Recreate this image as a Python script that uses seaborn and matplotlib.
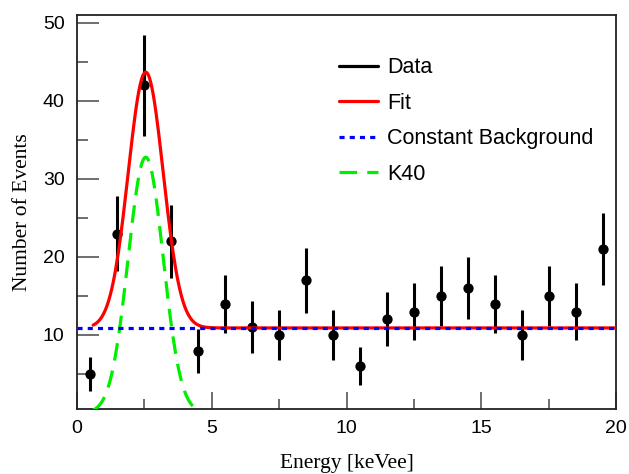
import numpy as np
import pandas as pd
import matplotlib
matplotlib.use("Agg")
import matplotlib.pyplot as plt
import seaborn as sns

# Data (binned counts, 1 keVee bins)
bin_centers = [0.5, 1.5, 2.5, 3.5, 4.5, 5.5, 6.5, 7.5, 8.5, 9.5,
               10.5, 11.5, 12.5, 13.5, 14.5, 15.5, 16.5, 17.5, 18.5, 19.5]
counts = [5, 23, 42, 22, 8, 14, 11, 10, 17, 10,
          6, 12, 13, 15, 16, 14, 10, 15, 13, 21]

# Fit parameters (Gaussian K40 peak + constant background)
k40_amp = 32.8
k40_mean = 2.55
k40_sigma = 0.65
bkg_level = 10.9
fit_range = [0.6, 20.0]

sns.set_style("ticks")
plt.rcParams["font.family"] = ["Liberation Sans", "DejaVu Sans"]
plt.rcParams["text.color"] = "black"
plt.rcParams["axes.labelcolor"] = "black"
plt.rcParams["xtick.labelcolor"] = "black"
plt.rcParams["ytick.labelcolor"] = "black"

df = pd.DataFrame({"energy": bin_centers, "events": counts})
df["err"] = np.sqrt(df["events"])

x = np.linspace(fit_range[0], fit_range[1], 400)
k40 = k40_amp * np.exp(-0.5 * ((x - k40_mean) / k40_sigma) ** 2)
curves = pd.DataFrame({"energy": x, "k40": k40, "fit": k40 + bkg_level})

fig = plt.figure(figsize=(6.29, 4.74), dpi=100)
ax = fig.add_axes([0.1224, 0.137, 0.857, 0.831])

ax.errorbar(df["energy"], df["events"], yerr=df["err"], fmt="none",
            ecolor="black", elinewidth=2.2, capsize=0, zorder=3)
sns.scatterplot(data=df, x="energy", y="events", color="black", s=55,
                edgecolor="black", linewidth=0, ax=ax, zorder=4)

sns.lineplot(data=curves, x="energy", y="fit", color="red", lw=2.3,
             ax=ax, zorder=5)
ax.plot([0, 20], [bkg_level, bkg_level], color="blue", lw=2.3,
        dashes=(1.6, 1.6), zorder=6)
sns.lineplot(data=curves, x="energy", y="k40", color="#00ee00", lw=2.3,
             ax=ax, zorder=5, dashes=False)
ax.lines[-1].set_dashes((5.5, 3.2))

ax.set_xlim(0, 20)
ax.set_ylim(0.5, 51)
ax.set_xticks([0, 5, 10, 15, 20])
ax.set_xticks([2.5, 7.5, 12.5, 17.5], minor=True)
ax.set_yticks([10, 20, 30, 40, 50])
ax.set_yticks([5, 15, 25, 35, 45], minor=True)
ax.tick_params(axis="both", which="both", direction="in", labelsize=14,
               color="#555555", width=1.2, labelcolor="black")
ax.tick_params(axis="y", which="major", length=16, pad=9)
ax.tick_params(axis="y", which="minor", length=8)
ax.tick_params(axis="x", which="major", length=12, pad=8)
ax.tick_params(axis="x", which="minor", length=7)
for sp in ax.spines.values():
    sp.set_linewidth(1.3)
    sp.set_color("#222222")

ax.set_xlabel("Energy [keVee]", family="Liberation Serif", fontsize=15.5,
              labelpad=12)
ax.set_ylabel("Number of Events", family="Liberation Serif", fontsize=15.5,
              labelpad=8)

handles = [
    plt.Line2D([], [], color="black", lw=2.3),
    plt.Line2D([], [], color="red", lw=2.3),
    plt.Line2D([], [], color="blue", lw=2.3, dashes=(1.6, 1.6)),
    plt.Line2D([], [], color="#00ee00", lw=2.3, dashes=(5.5, 3.2)),
]
labels = ["Data", "Fit", "Constant Background", "K40"]
ax.legend(handles, labels, loc="upper left", bbox_to_anchor=(0.471, 0.915),
          frameon=False, fontsize=15.5, handlelength=1.8, handletextpad=0.42,
          labelspacing=0.67, borderaxespad=0)

fig.savefig("out.png", dpi=100)
